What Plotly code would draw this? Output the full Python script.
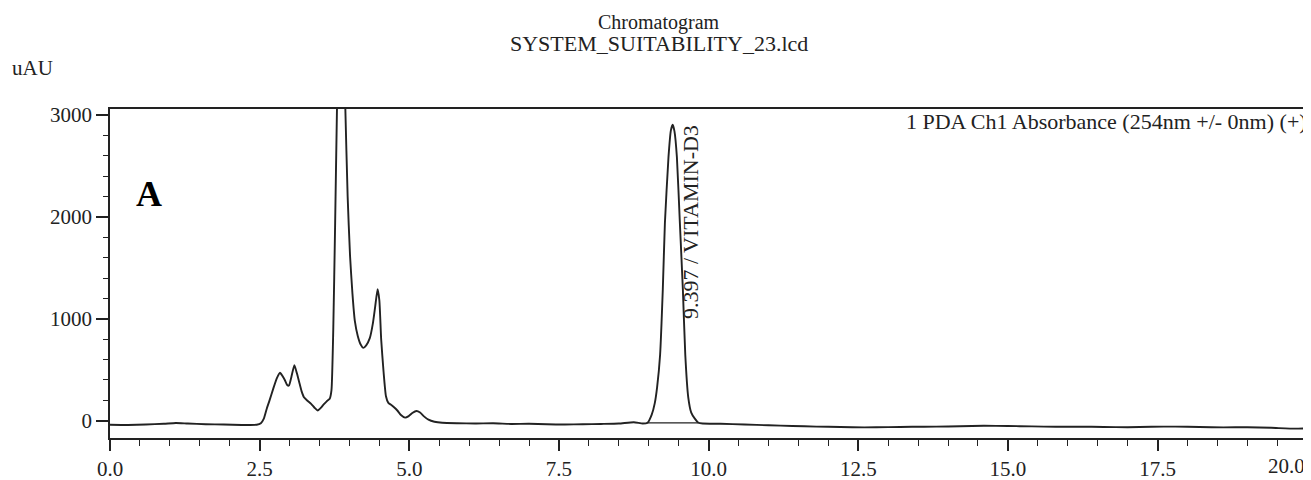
import plotly.graph_objects as go

# Retention time (min) and absorbance (uAU)
time_min = [0.0, 0.3, 0.6, 0.9, 1.1, 1.3, 1.6, 1.9, 2.2, 2.45, 2.52, 2.57, 2.62, 2.66, 2.73,
            2.79, 2.84, 2.88, 2.92, 2.96, 2.99, 3.03, 3.08, 3.12, 3.16, 3.20, 3.24, 3.30, 3.36,
            3.42, 3.47, 3.52, 3.57, 3.62, 3.67, 3.70, 3.73, 3.76, 3.79, 3.82, 3.86, 3.90, 3.93,
            3.97, 4.01, 4.05, 4.09, 4.14, 4.19, 4.23, 4.28, 4.34, 4.39, 4.43, 4.47, 4.50, 4.53,
            4.57, 4.61, 4.65, 4.70, 4.75, 4.80, 4.86, 4.93, 4.99, 5.05, 5.12, 5.18, 5.24, 5.32,
            5.42, 5.55, 5.8, 6.1, 6.4, 6.7, 7.0, 7.3, 7.6, 7.9, 8.2, 8.5, 8.75, 8.9, 8.98, 9.05,
            9.10, 9.14, 9.19, 9.235, 9.27, 9.33, 9.37, 9.40, 9.43, 9.47, 9.52, 9.57, 9.61, 9.66,
            9.71, 9.77, 9.83, 9.9, 10.2, 10.6, 11.0, 11.4, 11.8, 12.2, 12.6, 13.0, 13.4, 13.8,
            14.2, 14.6, 15.0, 15.4, 15.8, 16.2, 16.6, 17.0, 17.4, 17.8, 18.2, 18.6, 19.0, 19.4,
            19.8, 20.0]
absorbance = [-40, -42, -38, -30, -22, -28, -35, -38, -42, -40, -25, 20, 120, 190, 320,
              420, 470, 440, 400, 350, 345, 430, 545, 470, 380, 290, 230, 195, 165,
              125, 100, 125, 160, 190, 215, 300, 900, 1900, 3000, 3900, 4300, 3900, 3100,
              2200, 1620, 1250, 980, 830, 745, 715, 740, 810, 950, 1120, 1290, 1180, 800,
              480, 240, 175, 155, 130, 100, 55, 30, 45, 75, 95, 80, 45, 10,
              -10, -20, -25, -28, -25, -32, -30, -35, -38, -35, -32, -28, -15, -28, -20, 60,
              170, 330, 650, 1290, 1940, 2590, 2850, 2905, 2840, 2590, 1940, 1290, 650, 230,
              80, 20, -20, -28, -30, -38, -45, -52, -58, -62, -66, -63, -60, -58,
              -55, -50, -52, -56, -60, -58, -62, -64, -60, -58, -62, -66, -64, -70,
              -78, -75]

# Integration baseline under the Vitamin D3 peak
peak_base_time = [8.97, 9.83]
peak_base_abs = [-22, -22]

peak_label_time = 9.69
peak_label_abs = 1950
peak_label = "9.397 / VITAMIN-D3"

x_tickvals = [0.0, 2.5, 5.0, 7.5, 10.0, 12.5, 15.0, 17.5, 20.0]
x_ticktext = ["0.0", "2.5", "5.0", "7.5", "10.0", "12.5", "15.0", "17.5", ""]
last_x_label = "20.0"
y_tickvals = [0, 1000, 2000, 3000]
y_ticktext = ["0", "1000", "2000", "3000"]

FONT = "Liberation Serif, Times New Roman, serif"
INK = "#222222"

fig = go.Figure()
fig.add_trace(go.Scatter(x=time_min, y=absorbance, mode="lines",
                         line=dict(color=INK, width=1.9, shape="spline", smoothing=0.5),
                         showlegend=False, hoverinfo="skip"))
fig.add_trace(go.Scatter(x=peak_base_time, y=peak_base_abs, mode="lines",
                         line=dict(color=INK, width=1.3),
                         showlegend=False, hoverinfo="skip"))

# The page body has an 8px margin, so the figure is sized to fit the window
fig.update_layout(
    width=1303, height=472,
    margin=dict(l=102, r=2, t=101, b=42),
    paper_bgcolor="white", plot_bgcolor="white",
    font=dict(family=FONT, size=21, color=INK),
    showlegend=False,
)
fig.update_xaxes(range=[0, 20.03], tickvals=x_tickvals, ticktext=x_ticktext,
                 showline=True, linecolor=INK, linewidth=1.6, mirror=True,
                 ticks="outside", ticklen=11, tickwidth=1.6, tickcolor=INK,
                 minor=dict(dtick=0.5, tick0=0, ticks="outside", ticklen=6, tickwidth=1.4, tickcolor=INK),
                 showgrid=False, zeroline=False, automargin=False,
                 tickfont=dict(family=FONT, size=21, color=INK))
fig.update_yaxes(range=[-170, 3060], tickvals=y_tickvals, ticktext=y_ticktext,
                 showline=True, linecolor=INK, linewidth=1.6, mirror=True,
                 ticks="outside", ticklen=12, tickwidth=1.6, tickcolor=INK,
                 minor=dict(dtick=200, tick0=0, ticks="outside", ticklen=5, tickwidth=1.4, tickcolor=INK),
                 showgrid=False, zeroline=False, automargin=False,
                 tickfont=dict(family=FONT, size=21, color=INK))

ann = [
    dict(text="Chromatogram", xref="paper", yref="paper", x=0.458, y=1.264,
         xanchor="center", yanchor="middle", showarrow=False, font=dict(size=20)),
    dict(text="SYSTEM_SUITABILITY_23.lcd", xref="paper", yref="paper", x=0.458, y=1.200,
         xanchor="center", yanchor="middle", showarrow=False, font=dict(size=22)),
    dict(text="uAU", xref="paper", yref="paper", x=-0.083, y=1.125,
         xanchor="left", yanchor="middle", showarrow=False, font=dict(size=21)),
    dict(text="1 PDA Ch1 Absorbance (254nm +/- 0nm) (+)", xref="paper", yref="paper",
         x=1.0, y=0.962, xanchor="right", yanchor="middle", showarrow=False,
         font=dict(size=22)),
    dict(text="<b>A</b>", xref="paper", yref="paper", x=0.0325, y=0.742,
         xanchor="center", yanchor="middle", showarrow=False, font=dict(size=36, color="black")),
    dict(text=peak_label, x=peak_label_time, y=peak_label_abs, xref="x", yref="y",
         textangle=-90, xanchor="center", yanchor="middle", showarrow=False,
         font=dict(size=22)),
    dict(text=last_x_label, x=20.0, y=0, xref="x", yref="paper", xanchor="right",
         yanchor="top", yshift=-14, showarrow=False, font=dict(size=21)),
]
fig.update_layout(annotations=ann)

fig.write_html("out.html")
